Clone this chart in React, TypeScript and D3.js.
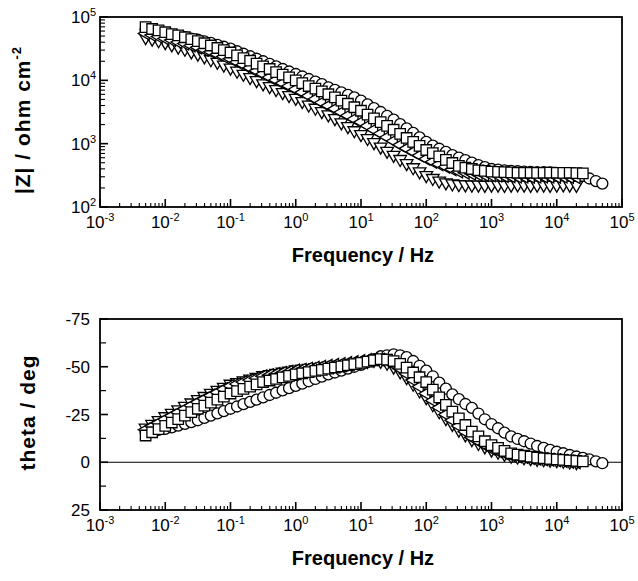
import React from "react";
import * as d3 from "d3";

// Frequencies (Hz)
const freq = [0.005, 0.0063, 0.0079, 0.01, 0.0126, 0.0158, 0.02, 0.0251, 0.0316, 0.0398, 0.05, 0.063, 0.079, 0.1, 0.126, 0.158, 0.2, 0.251, 0.316, 0.398, 0.5, 0.63, 0.79, 1, 1.26, 1.58, 2, 2.51, 3.16, 3.98, 5, 6.3, 7.9, 10, 12.6, 15.8, 20, 25.1, 31.6, 39.8, 50, 63, 79, 100, 126, 158, 200, 251, 316, 398, 500, 630, 790, 1000, 1260, 1580, 2000, 2510, 3160, 3980, 5000, 6300, 7900, 10000, 12600, 15800, 20000, 25100, 31600, 39800, 50000];

// |Z| (ohm cm^2)
const zCircle = [63100, 60300, 57500, 55000, 52500, 50100, 47900, 45700, 43700, 41200, 38900, 36300, 33900, 31600, 28800, 26300, 24000, 21900, 20000, 18200, 16600, 15100, 13800, 12600, 11500, 10500, 9550, 8710, 7760, 7080, 6460, 5890, 5370, 4790, 4170, 3630, 3160, 2750, 2400, 2040, 1740, 1480, 1260, 1070, 933, 832, 741, 661, 603, 550, 501, 457, 427, 398, 389, 380, 372, 367, 363, 359, 355, 355, 351, 347, 343, 339, 324, 309, 282, 257, 234];
const zSquare = [69200, 64600, 61700, 57500, 53700, 51300, 47900, 44700, 41700, 38500, 35500, 32400, 29900, 27500, 24800, 22400, 20400, 18400, 16600, 15100, 13500, 12300, 11100, 10000, 9020, 8130, 7410, 6680, 6030, 5370, 4790, 4270, 3760, 3310, 2880, 2510, 2190, 1910, 1660, 1430, 1230, 1070, 923, 794, 708, 631, 556, 495, 447, 417, 398, 380, 372, 363, 359, 355, 351, 347, 347, 347, 345, 347, 349, 347, 345, 347, 343, 339];
const zLeftTri = [55000, 51900, 49000, 45700, 43200, 40300, 38000, 35500, 33100, 30500, 28200, 25700, 23700, 21900, 19500, 17600, 15700, 14100, 12600, 11200, 10100, 9020, 8130, 7240, 6460, 5690, 5070, 4470, 3980, 3550, 3130, 2790, 2450, 2190, 1910, 1660, 1450, 1260, 1100, 955, 841, 741, 653, 575, 519, 473, 432, 394, 363, 347, 335, 327, 320, 316, 313, 309, 305, 302, 302, 300, 302, 304, 302, 300, 302, 298, 295];
const zDownTri = [47900, 45200, 42700, 39800, 36700, 33900, 31300, 28500, 26300, 23700, 21400, 19500, 17600, 15800, 14100, 12600, 11200, 10000, 8910, 8040, 7240, 6460, 5820, 5250, 4680, 4120, 3670, 3240, 2880, 2510, 2160, 1880, 1620, 1410, 1220, 1050, 891, 767, 661, 569, 490, 422, 363, 316, 285, 260, 243, 234, 229, 226, 224, 224, 222, 224, 224, 222, 224, 226, 224, 222, 224, 224, 222, 224, 226, 224, 222];

// Phase angle (deg)
const thCircle = [-16, -16.5, -17, -17.5, -18.3, -19.2, -20.1, -21, -22, -23.2, -24.4, -25.6, -26.8, -28, -29.2, -30.4, -31.6, -32.8, -34, -35.2, -36.4, -37.6, -38.8, -40, -41.2, -42.4, -43.6, -44.8, -46, -47, -48, -49, -50, -51, -52.5, -54, -55.5, -56, -56.5, -56, -55, -53, -50.5, -48, -45, -41.7, -38.5, -35.5, -33, -30.5, -28.5, -25.5, -22.5, -20, -17.8, -15.5, -13.5, -12.2, -11, -9.8, -8.5, -7.5, -6.5, -5.5, -4.7, -3.8, -3, -2.3, -1.5, -0.5, 0.5];
const thSquare = [-14, -15.7, -17.3, -19, -20.8, -22.6, -24.4, -26.2, -28, -29.6, -31.2, -32.8, -34.4, -36, -37.2, -38.4, -39.6, -40.8, -42, -42.8, -43.6, -44.4, -45.2, -46, -46.6, -47.2, -47.8, -48.4, -49, -49.6, -50.2, -50.8, -51.4, -52, -52.7, -53.4, -54, -53.7, -53, -51.5, -49.5, -47, -44.5, -42, -38, -34, -30, -26.5, -23, -19.5, -16, -13.5, -11, -9, -7.5, -6, -4.7, -4, -3.4, -2.9, -2.4, -2.1, -1.8, -1.5, -1.2, -1, -0.7, -0.5];
const thLeftTri = [-17, -18.8, -20.6, -22.5, -24.3, -26.1, -27.9, -29.7, -31.5, -33.2, -34.9, -36.6, -38.3, -40, -41, -42, -43, -44, -45, -45.6, -46.2, -46.8, -47.4, -48, -48.5, -49, -49.5, -50, -50.5, -51, -51.5, -52, -52.5, -53, -53.5, -54, -53.7, -53, -51.3, -49, -46.3, -43, -39.6, -36, -32.3, -28.6, -25, -22, -19, -16, -13, -11, -9, -7, -5.8, -4.7, -3.6, -3.1, -2.7, -2.2, -1.8, -1.5, -1.3, -1, -0.7, -0.3, 0];
const thDownTri = [-18, -20, -22, -24, -25.8, -27.6, -29.4, -31.2, -33, -34.6, -36.2, -37.8, -39.4, -41, -41.9, -42.8, -43.7, -44.6, -45.5, -46.1, -46.7, -47.3, -47.9, -48.5, -48.9, -49.3, -49.7, -50.1, -50.5, -50.9, -51.3, -51.7, -52.1, -52.5, -53, -53.5, -53, -52, -50, -47.5, -44.5, -41, -37.5, -34, -30.3, -26.6, -23, -20, -17, -14.5, -12, -10, -8.2, -6.5, -5.4, -4.3, -3.3, -2.9, -2.5, -2.1, -1.7, -1.5, -1.3, -1, -0.7, -0.3, 0];

const xDecades = [-3, -2, -1, 0, 1, 2, 3, 4, 5];
const zDecades = [2, 3, 4, 5];
const thetaTicks = [-75, -50, -25, 0, 25];

const W = 638, H = 581;
const L = 100, R = 622;
const T1 = 17, B1 = 207;
const T2 = 319, B2 = 510;
const FONT = "'Liberation Sans', Arial, Helvetica, sans-serif";

const x = d3.scaleLog().domain([1e-3, 1e5]).range([L, R]);
const yZ = d3.scaleLog().domain([1e2, 1e5]).range([B1, T1]);
const yT = d3.scaleLinear().domain([25, -75]).range([B2, T2]);

type SeriesDef = { key: string; shape: string; z: number[]; th: number[] };
const series: SeriesDef[] = [
  { key: "circle", shape: "circle", z: zCircle, th: thCircle },
  { key: "down", shape: "down", z: zDownTri, th: thDownTri },
  { key: "left", shape: "left", z: zLeftTri, th: thLeftTri },
  { key: "square", shape: "square", z: zSquare, th: thSquare },
];

const symCircle = d3.symbol().type(d3.symbolCircle).size(95)()!;
const symSquare = d3.symbol().type(d3.symbolSquare).size(110)()!;
const symTri = d3.symbol().type(d3.symbolTriangle).size(70)()!;

function markerPath(shape: string) {
  if (shape === "circle") return { d: symCircle, rot: 0 };
  if (shape === "square") return { d: symSquare, rot: 0 };
  if (shape === "down") return { d: symTri, rot: 180 };
  return { d: symTri, rot: -90 };
}

function isDecade(t: number) {
  const l = Math.log10(t);
  return Math.abs(l - Math.round(l)) < 1e-6;
}

function Pow10({ e, xPos, yPos, anchor }: { e: number; xPos: number; yPos: number; anchor: string }) {
  return (
    <text x={xPos} y={yPos} textAnchor={anchor} fontFamily={FONT} fontSize={17} fill="#000">
      10<tspan fontSize={11} dy={-7}>{e}</tspan>
    </text>
  );
}

function XAxis({ bottom }: { bottom: number }) {
  const ticks = x.ticks();
  return (
    <g>
      {ticks.map((t, i) => {
        const major = isDecade(t);
        return (
          <line key={i} x1={x(t)} x2={x(t)} y1={bottom} y2={bottom - (major ? 8 : 4)} stroke="#000" strokeWidth={major ? 1.6 : 1.1} />
        );
      })}
      {xDecades.map((e) => (
        <Pow10 key={e} e={e} xPos={x(Math.pow(10, e))} yPos={bottom + 21} anchor="middle" />
      ))}
      <text x={(L + R) / 2 + 2} y={bottom + 55} textAnchor="middle" fontFamily={FONT} fontWeight="bold" fontSize={20} fill="#000">
        Frequency / Hz
      </text>
    </g>
  );
}

function Markers({ data, yScale, shape }: { data: number[]; yScale: (v: number) => number; shape: string }) {
  const m = markerPath(shape);
  return (
    <g>
      {data.map((v, i) => (
        <path
          key={i}
          d={m.d}
          transform={`translate(${x(freq[i])},${yScale(v)}) rotate(${m.rot})`}
          fill="#fff"
          stroke="#000"
          strokeWidth={1.3}
        />
      ))}
    </g>
  );
}

export default function App() {
  const zTicks = yZ.ticks();
  const thMinor = d3.range(-75, 25.1, 12.5);
  return (
    <svg width={W} height={H} style={{ position: "absolute", left: 0, top: 0, background: "#fff" }}>
      <rect x={0} y={0} width={W} height={H} fill="#fff" />
      {/* Top panel */}
      <g>
        {series.map((s) => (
          <Markers key={s.key} data={s.z} yScale={(v) => yZ(v)} shape={s.shape} />
        ))}
        <rect x={L} y={T1} width={R - L} height={B1 - T1} fill="none" stroke="#000" strokeWidth={1.8} />
        {zTicks.map((t, i) => {
          const major = isDecade(t);
          return <line key={i} x1={L} x2={L + (major ? 8 : 5)} y1={yZ(t)} y2={yZ(t)} stroke="#000" strokeWidth={major ? 1.6 : 1.1} />;
        })}
        {zDecades.map((e) => (
          <Pow10 key={e} e={e} xPos={96} yPos={yZ(Math.pow(10, e)) + 6} anchor="end" />
        ))}
        <XAxis bottom={B1} />
        <text
          transform={`translate(30,${(T1 + B1) / 2 + 8}) rotate(-90)`}
          textAnchor="middle"
          fontFamily={FONT}
          fontWeight="bold"
          fontSize={21}
          letterSpacing={1}
          fill="#000"
        >
          |Z| / ohm cm<tspan fontSize={13} dy={-9}>-2</tspan>
        </text>
      </g>
      {/* Bottom panel */}
      <g>
        <line x1={L} x2={R} y1={yT(0)} y2={yT(0)} stroke="#000" strokeWidth={1.2} />
        {series.map((s) => (
          <Markers key={s.key} data={s.th} yScale={(v) => yT(v)} shape={s.shape} />
        ))}
        <rect x={L} y={T2} width={R - L} height={B2 - T2} fill="none" stroke="#000" strokeWidth={1.8} />
        {thMinor.map((t, i) => {
          const major = thetaTicks.includes(t);
          return <line key={i} x1={L} x2={L + (major ? 8 : 6)} y1={yT(t)} y2={yT(t)} stroke="#000" strokeWidth={major ? 1.6 : 1.2} />;
        })}
        {thetaTicks.map((t) => (
          <text key={t} x={90} y={yT(t) + 6} textAnchor="end" fontFamily={FONT} fontSize={17} fill="#000">
            {t}
          </text>
        ))}
        <XAxis bottom={B2} />
        <text
          transform={`translate(35,${(T2 + B2) / 2 - 2}) rotate(-90)`}
          textAnchor="middle"
          fontFamily={FONT}
          fontWeight="bold"
          fontSize={21}
          letterSpacing={1}
          fill="#000"
        >
          theta / deg
        </text>
      </g>
    </svg>
  );
}
